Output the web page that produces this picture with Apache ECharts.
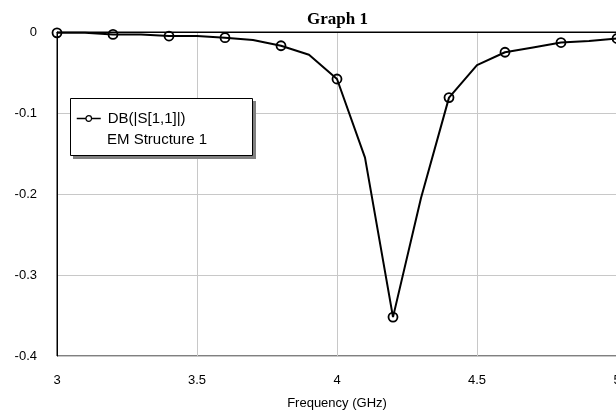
<!DOCTYPE html>
<html>
<head>
<meta charset="utf-8">
<script src="https://cdn.jsdelivr.net/npm/echarts@6/dist/echarts.min.js"></script>
<style>
html,body{margin:0;padding:0;background:#fff;overflow:hidden;width:616px;height:414px;}
#chart{width:636px;height:414px;}
</style>
</head>
<body>
<div id="chart"></div>
<script>
const freqGHz = [3.0, 3.1, 3.2, 3.3, 3.4, 3.5, 3.6, 3.7, 3.8, 3.9, 4.0, 4.1, 4.2, 4.3, 4.4, 4.5, 4.6, 4.7, 4.8, 4.9, 5.0];
const s11dB = [-0.001, -0.001, -0.003, -0.003, -0.005, -0.005, -0.007, -0.010, -0.017, -0.028, -0.058, -0.155, -0.352, -0.205, -0.081, -0.041, -0.025, -0.019, -0.013, -0.011, -0.008];
const xTicks = [3, 3.5, 4, 4.5, 5];
const yTicks = [0, -0.1, -0.2, -0.3, -0.4];
const seriesName = 'DB(|S[1,1]|)';
const seriesSub = 'EM Structure 1';
const titleText = 'Graph 1';
const xName = 'Frequency (GHz)';

const chart = echarts.init(document.getElementById('chart'), null, {renderer: 'canvas'});
const font = 'Arial, "Liberation Sans", sans-serif';
chart.setOption({
  animation: false,
  backgroundColor: '#fff',
  title: {
    text: titleText,
    left: 302, top: 6,
    textStyle: {fontFamily: '"Liberation Serif", "Times New Roman", serif', fontWeight: 'bold', fontSize: 17, color: '#000'}
  },
  grid: {left: 57, right: 19, top: 32, bottom: 58, outerBoundsMode: 'none', containLabel: false,
    show: true, borderColor: '#000', borderWidth: 1, backgroundColor: 'transparent'},
  xAxis: {
    type: 'value', min: xTicks[0], max: xTicks[xTicks.length - 1], interval: 0.5,
    name: xName, nameLocation: 'middle', nameGap: 41,
    nameTextStyle: {fontFamily: font, fontSize: 13, color: '#000'},
    axisLine: {show: true, lineStyle: {color: '#000', width: 1}},
    axisTick: {show: false},
    axisLabel: {fontFamily: font, fontSize: 13, color: '#000', margin: 18,
      formatter: v => String(xTicks.find(t => Math.abs(t - v) < 1e-9) ?? v)},
    splitLine: {show: true, lineStyle: {color: '#c8c8c8', width: 1}}
  },
  yAxis: {
    type: 'value', min: yTicks[yTicks.length - 1], max: yTicks[0], interval: 0.1,
    axisLine: {show: true, lineStyle: {color: '#000', width: 1}},
    axisTick: {show: false},
    axisLabel: {fontFamily: font, fontSize: 13, color: '#000', margin: 20,
      formatter: v => String(yTicks.find(t => Math.abs(t - v) < 1e-9) ?? v)},
    splitLine: {show: true, lineStyle: {color: '#c8c8c8', width: 1}}
  },
  legend: {
    show: true,
    left: 76, top: 111,
    itemWidth: 24, itemHeight: 7,
    padding: 0,
    itemStyle: {color: '#fff', borderColor: '#000', borderWidth: 1.2},
    lineStyle: {color: '#000', width: 1.5},
    textStyle: {fontFamily: font, fontSize: 15, color: '#000', padding: [0, 0, 0, 2]},
    data: [seriesName],
    z: 10
  },
  graphic: [
    {
      type: 'rect', z: 4,
      shape: {x: 73, y: 101, width: 183, height: 58},
      style: {fill: '#808080', stroke: null}
    },
    {
      type: 'rect', z: 5,
      shape: {x: 70.5, y: 98.5, width: 182, height: 57},
      style: {fill: '#fff', stroke: '#000', lineWidth: 1}
    },
    {
      type: 'text', z: 11, left: 107, top: 132,
      style: {text: seriesSub, fontFamily: font, fontSize: 15, fill: '#000'}
    }
  ],
  series: [{
    name: seriesName,
    type: 'line',
    data: freqGHz.map((f, i) => [f, s11dB[i]]),
    showAllSymbol: true,
    symbol: 'circle',
    symbolSize: (v, p) => (p.dataIndex % 2 === 0 ? 9 : 0),
    lineStyle: {color: '#000', width: 2},
    itemStyle: {color: 'rgba(255,255,255,0)', borderColor: '#000', borderWidth: 1.8},
    emphasis: {disabled: true},
    z: 3
  }]
});
</script>
</body>
</html>
